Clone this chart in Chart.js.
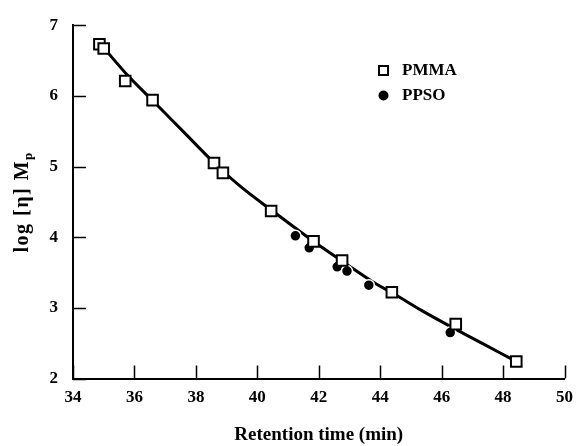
<!DOCTYPE html>
<html>
<head>
<meta charset="utf-8">
<script src="https://cdn.jsdelivr.net/npm/chart.js@4.4.1/dist/chart.umd.min.js"></script>
<style>
  html, body { margin: 0; padding: 0; background: #fff; }
  #wrap { width: 582px; height: 446px; position: relative; }
</style>
</head>
<body>
<div id="wrap"><canvas id="c" width="582" height="446"></canvas></div>
<script>
// ---- data ----
const pmmaX = [34.86, 35.0, 35.70, 36.59, 38.59, 38.88, 40.45, 41.83, 42.76, 44.38, 46.46, 48.43];
const pmmaY = [6.73, 6.67, 6.21, 5.94, 5.05, 4.91, 4.37, 3.94, 3.67, 3.22, 2.77, 2.24];
const ppsoX = [41.24, 41.69, 42.60, 42.92, 43.63, 46.28];
const ppsoY = [4.02, 3.85, 3.58, 3.52, 3.32, 2.65];
const fitX = [35.0, 35.8, 36.6, 37.6, 38.6, 39.5, 40.5, 41.8, 42.8, 43.9, 44.4, 45.4, 46.4, 47.4, 48.3];
const fitY = [6.68, 6.28, 5.93, 5.49, 5.05, 4.70, 4.37, 3.95, 3.65, 3.33, 3.21, 2.95, 2.71, 2.48, 2.27];
const xTicks = [34, 36, 38, 40, 42, 44, 46, 48, 50];
const yTicks = [2, 3, 4, 5, 6, 7];
const seriesNames = ['PMMA', 'PPSO'];
const xTitle = 'Retention time (min)';
const yTitleMain = 'log [\u03B7] M';
const yTitleSub = 'p';

const toPts = (xs, ys) => xs.map((x, i) => ({ x: x, y: ys[i] }));
const FONT = '"Liberation Serif", "Times New Roman", serif';

const inwardTicks = {
  id: 'inwardTicks',
  afterDatasetsDraw(chart) {
    const { ctx, chartArea: a, scales } = chart;
    ctx.save();
    ctx.strokeStyle = '#000';
    ctx.lineWidth = 1.5;
    const L = 13;
    xTicks.forEach(v => {
      const px = Math.round(scales.x.getPixelForValue(v)) + 0.5;
      ctx.beginPath(); ctx.moveTo(px, a.bottom); ctx.lineTo(px, a.bottom - L); ctx.stroke();
    });
    yTicks.forEach(v => {
      const py = Math.round(scales.y.getPixelForValue(v)) + 0.5;
      ctx.beginPath(); ctx.moveTo(a.left, py); ctx.lineTo(a.left + L, py); ctx.stroke();
    });
    ctx.restore();
  }
};

const extras = {
  id: 'extras',
  afterDraw(chart) {
    const { ctx, chartArea: a } = chart;
    ctx.save();
    // y-axis title with subscript
    ctx.translate(23, (a.top + a.bottom) / 2);
    ctx.rotate(-Math.PI / 2);
    ctx.fillStyle = '#000';
    ctx.letterSpacing = '1.5px';
    ctx.font = 'bold 20px ' + FONT;
    const w1 = ctx.measureText(yTitleMain).width;
    ctx.font = 'bold 13px ' + FONT;
    const w2 = ctx.measureText(yTitleSub).width;
    const start = -(w1 + w2) / 2;
    ctx.textBaseline = 'middle';
    ctx.textAlign = 'left';
    ctx.font = 'bold 20px ' + FONT;
    ctx.fillText(yTitleMain, start, 0);
    ctx.font = 'bold 13px ' + FONT;
    ctx.fillText(yTitleSub, start + w1, 6);
    ctx.restore();

    // legend
    ctx.save();
    ctx.strokeStyle = '#000';
    ctx.lineWidth = 2;
    ctx.fillStyle = '#fff';
    ctx.fillRect(379, 66, 9, 9);
    ctx.strokeRect(379, 66, 9, 9);
    ctx.fillStyle = '#000';
    ctx.textBaseline = 'middle';
    ctx.textAlign = 'left';
    ctx.font = 'bold 17px ' + FONT;
    ctx.fillText(seriesNames[0], 402, 71);
    ctx.beginPath(); ctx.arc(383.5, 95.5, 5, 0, Math.PI * 2); ctx.fill();
    ctx.fillText(seriesNames[1], 402, 96);
    ctx.restore();
  }
};

new Chart(document.getElementById('c'), {
  type: 'scatter',
  data: {
    datasets: [
      {
        label: 'fit',
        type: 'line',
        data: toPts(fitX, fitY),
        borderColor: '#000',
        borderWidth: 3,
        pointRadius: 0,
        cubicInterpolationMode: 'monotone',
        fill: false,
        order: 3
      },
      {
        label: seriesNames[0],
        data: toPts(pmmaX, pmmaY),
        pointStyle: 'rect',
        pointRadius: 7.5,
        pointBackgroundColor: '#fff',
        pointBorderColor: '#000',
        pointBorderWidth: 2,
        order: 1
      },
      {
        label: seriesNames[1],
        data: toPts(ppsoX, ppsoY),
        pointStyle: 'circle',
        pointRadius: 5.5,
        pointBackgroundColor: '#000',
        pointBorderColor: '#fff',
        pointBorderWidth: 1.5,
        order: 2
      }
    ]
  },
  options: {
    responsive: false,
    animation: false,
    events: [],
    layout: { padding: { left: 0, right: 14, top: 21, bottom: 0 } },
    plugins: { legend: { display: false }, tooltip: { enabled: false } },
    scales: {
      x: {
        type: 'linear',
        min: 34, max: 50,
        afterBuildTicks: s => { s.ticks = xTicks.map(v => ({ value: v })); },
        afterFit: s => { s.height = 67.5; },
        grid: { drawOnChartArea: false, drawTicks: false },
        border: { display: true, color: '#000', width: 2 },
        ticks: { color: '#000', padding: 9, font: { family: FONT, size: 17, weight: 'bold' }, maxRotation: 0 },
        title: { display: true, text: xTitle, color: '#000', padding: { top: 9, bottom: 0 },
                 font: { family: FONT, size: 19, weight: 'bold' } }
      },
      y: {
        type: 'linear',
        min: 2, max: 7,
        afterBuildTicks: s => { s.ticks = yTicks.map(v => ({ value: v })); },
        afterFit: s => { s.width = 73; },
        grid: { drawOnChartArea: false, drawTicks: false },
        border: { display: true, color: '#000', width: 2 },
        ticks: { color: '#000', padding: 15, font: { family: FONT, size: 17, weight: 'bold' } }
      }
    }
  },
  plugins: [inwardTicks, extras]
});
</script>
</body>
</html>
